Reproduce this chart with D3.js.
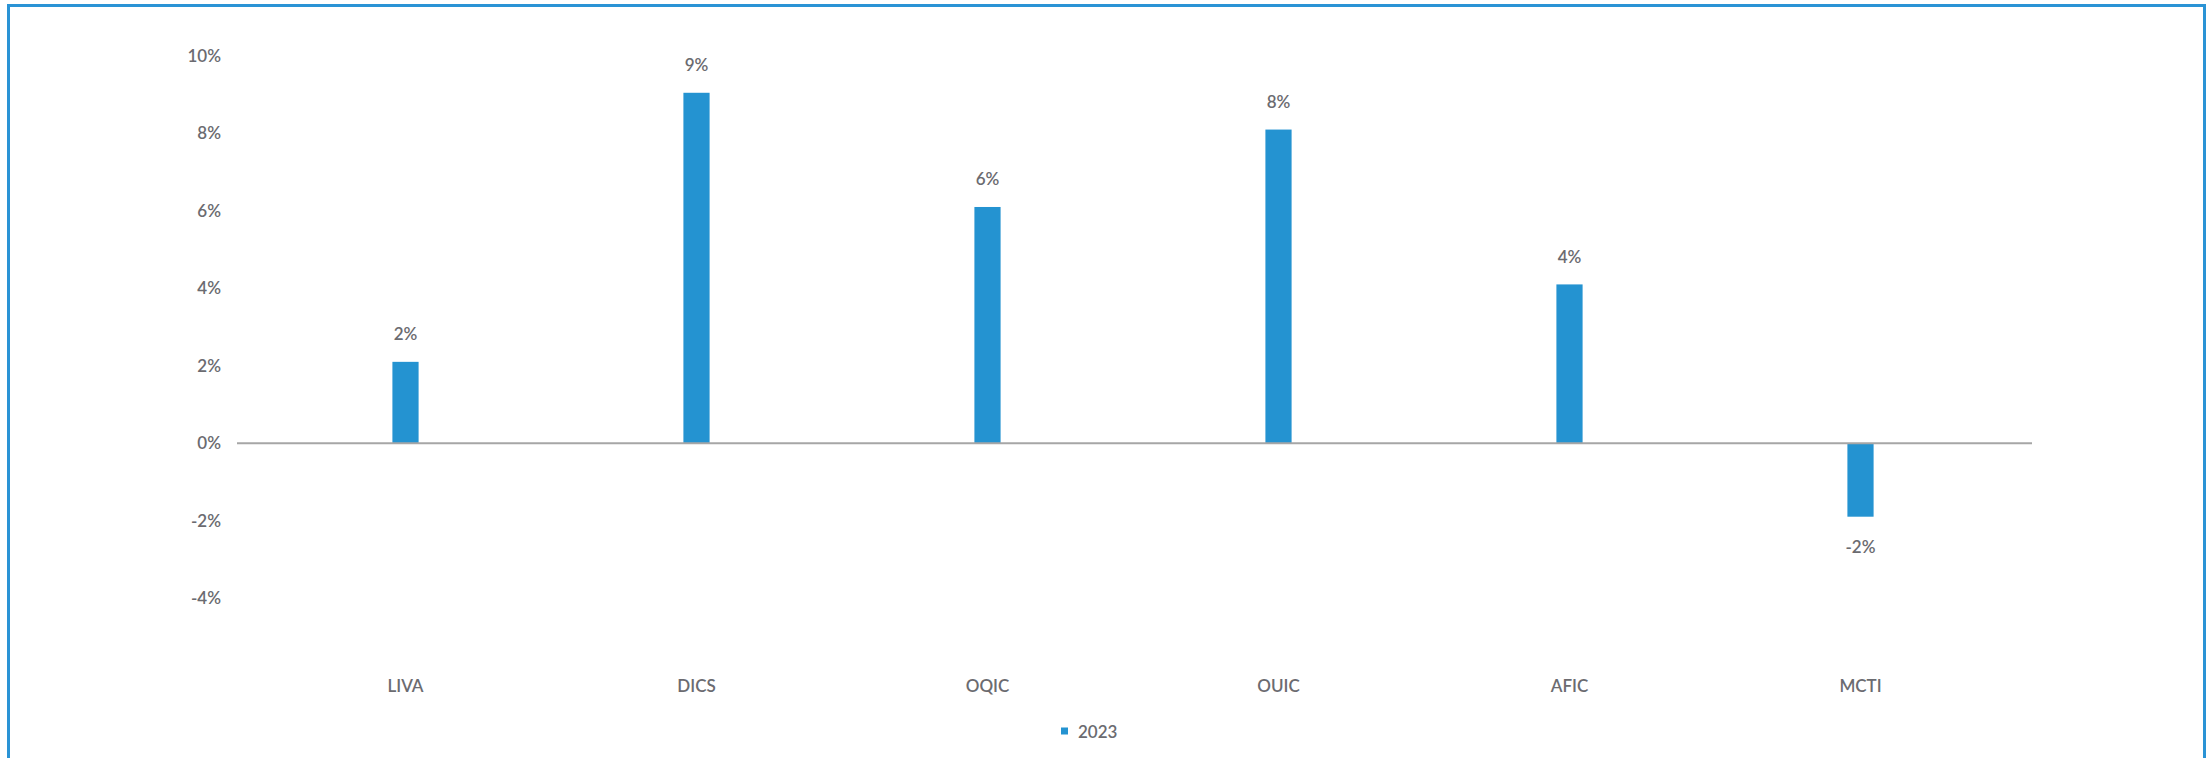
<!DOCTYPE html>
<html>
<head>
<meta charset="utf-8">
<script src="https://cdn.jsdelivr.net/npm/d3@7"></script>
<style>
  html, body { margin: 0; padding: 0; background: #ffffff; }
  svg { display: block; }
  text { font-family: Lato, "Open Sans", sans-serif; fill: #6b6b70; }
</style>
</head>
<body>
<svg id="chart" width="2208" height="758"></svg>
<script>
const categories = ["LIVA", "DICS", "OQIC", "OUIC", "AFIC", "MCTI"];
const values2023 = [2.1, 9.05, 6.1, 8.1, 4.1, -1.9];
const yTicks = [-4, -2, 0, 2, 4, 6, 8, 10];
const seriesName = "2023";

const W = 2208, H = 758;
const svg = d3.select("#chart");

// outer frame
svg.append("rect")
  .attr("x", 8.5).attr("y", 5.5)
  .attr("width", 2196).attr("height", 800)
  .attr("fill", "none")
  .attr("stroke", "#2a93d5")
  .attr("stroke-width", 3);

const x = d3.scaleBand()
  .domain(categories)
  .range([260, 2006])
  .paddingInner(0.91)
  .paddingOuter(0.455);

const y = d3.scaleLinear()
  .domain([-4, 10])
  .range([598, 56]);

// y axis labels
const yAxis = d3.axisLeft(y)
  .tickValues(yTicks)
  .tickSize(0)
  .tickPadding(0)
  .tickFormat(d => d + "%");
const gy = svg.append("g").attr("transform", "translate(221,0)").call(yAxis);
gy.select(".domain").remove();
gy.selectAll("text")
  .style("font-family", "Lato, 'Open Sans', sans-serif")
  .style("font-size", "17px")
  .style("font-weight", "600")
  .attr("fill", "#6b6b70");

// bars
svg.append("g").selectAll("rect")
  .data(categories.map((c, i) => ({ c, v: values2023[i] })))
  .join("rect")
  .attr("x", d => x(d.c))
  .attr("width", x.bandwidth())
  .attr("y", d => Math.min(y(d.v), y(0)))
  .attr("height", d => Math.abs(y(d.v) - y(0)))
  .attr("fill", "#2493d1");

// zero line
svg.append("line")
  .attr("x1", 237).attr("x2", 2032)
  .attr("y1", y(0)).attr("y2", y(0))
  .attr("stroke", "#a6a6a6")
  .attr("stroke-width", 2);

// value labels
svg.append("g").selectAll("text")
  .data(categories.map((c, i) => ({ c, v: values2023[i] })))
  .join("text")
  .attr("x", d => x(d.c) + x.bandwidth() / 2)
  .attr("y", d => d.v >= 0 ? y(d.v) - 28 : y(d.v) + 30)
  .attr("text-anchor", "middle")
  .attr("dominant-baseline", "central")
  .style("font-size", "17px")
  .style("font-weight", "600")
  .text(d => Math.round(d.v) + "%");

// x axis labels
const xAxis = d3.axisBottom(x).tickSize(0).tickPadding(0);
const gx = svg.append("g").attr("transform", "translate(0,685)").call(xAxis);
gx.select(".domain").remove();
gx.selectAll("text")
  .attr("dy", null)
  .attr("y", 0)
  .attr("dominant-baseline", "central")
  .style("font-family", "Lato, 'Open Sans', sans-serif")
  .style("font-size", "17px")
  .style("font-weight", "600")
  .attr("fill", "#6b6b70");

// legend
const lg = svg.append("g").attr("transform", "translate(1061,731)");
lg.append("rect").attr("x", 0).attr("y", -3.5).attr("width", 7).attr("height", 7).attr("fill", "#2493d1");
lg.append("text").attr("x", 17).attr("y", 0)
  .attr("dominant-baseline", "central")
  .style("font-size", "17px")
  .style("font-weight", "600")
  .text(seriesName);
</script>
</body>
</html>
